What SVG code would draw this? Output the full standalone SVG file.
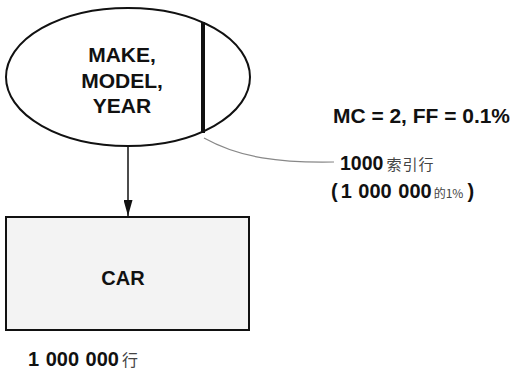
<svg xmlns="http://www.w3.org/2000/svg" width="515" height="372" viewBox="0 0 515 372">
<style>
.b{font-family:"Liberation Sans",Arial,"Noto Sans CJK SC",sans-serif;font-weight:bold;fill:#111}
.c{font-family:"Noto Sans CJK SC","Liberation Sans",sans-serif;font-weight:normal;fill:#444}
</style>
<defs>
<marker id="ah" markerWidth="16" markerHeight="9" refX="16" refY="4.5" orient="auto" markerUnits="userSpaceOnUse" viewBox="0 0 16 9">
<path d="M0,0 L16,4.5 L0,9 Z" fill="#111"/>
</marker>
</defs>
<g id="connectors">
<line x1="128" y1="146" x2="128" y2="216" stroke="#111" stroke-width="1.5" marker-end="url(#ah)"/>
<path d="M204,138 C240,158 280,163 334,162" fill="none" stroke="#888" stroke-width="1.2"/>
</g>
<g id="index">
<ellipse cx="128" cy="77" rx="122" ry="69" fill="#fff" stroke="#111" stroke-width="2"/>
<line x1="203" y1="22" x2="203" y2="133" stroke="#111" stroke-width="4"/>
<text class="b" font-size="21" text-anchor="middle" x="122" y="62">MAKE,</text>
<text class="b" font-size="21" text-anchor="middle" x="122" y="88">MODEL,</text>
<text class="b" font-size="21" text-anchor="middle" x="122" y="113">YEAR</text>
</g>
<g id="car">
<rect x="6" y="217" width="243" height="113" fill="#f3f3f3" stroke="#111" stroke-width="2"/>
<text class="b" font-size="20" text-anchor="middle" x="123" y="285">CAR</text>
</g>
<g id="labels">
<text class="b" font-size="20" x="333" y="123" textLength="177" lengthAdjust="spacingAndGlyphs">MC = 2, FF = 0.1%</text>
<text x="340" y="170"><tspan class="b" font-size="19.5">1000</tspan><tspan class="c" font-size="15" dx="3" letter-spacing="1">索引行</tspan></text>
<text x="331" y="198"><tspan class="b" font-size="20">(</tspan><tspan class="b" font-size="20" dx="3" word-spacing="1">1 000 000</tspan><tspan class="c" font-size="12" dx="2">的1%</tspan><tspan class="b" font-size="20" dx="4">)</tspan></text>
<text x="28" y="366"><tspan class="b" font-size="20" word-spacing="1">1 000 000</tspan><tspan class="c" font-size="16" dx="3">行</tspan></text>
</g>
</svg>
